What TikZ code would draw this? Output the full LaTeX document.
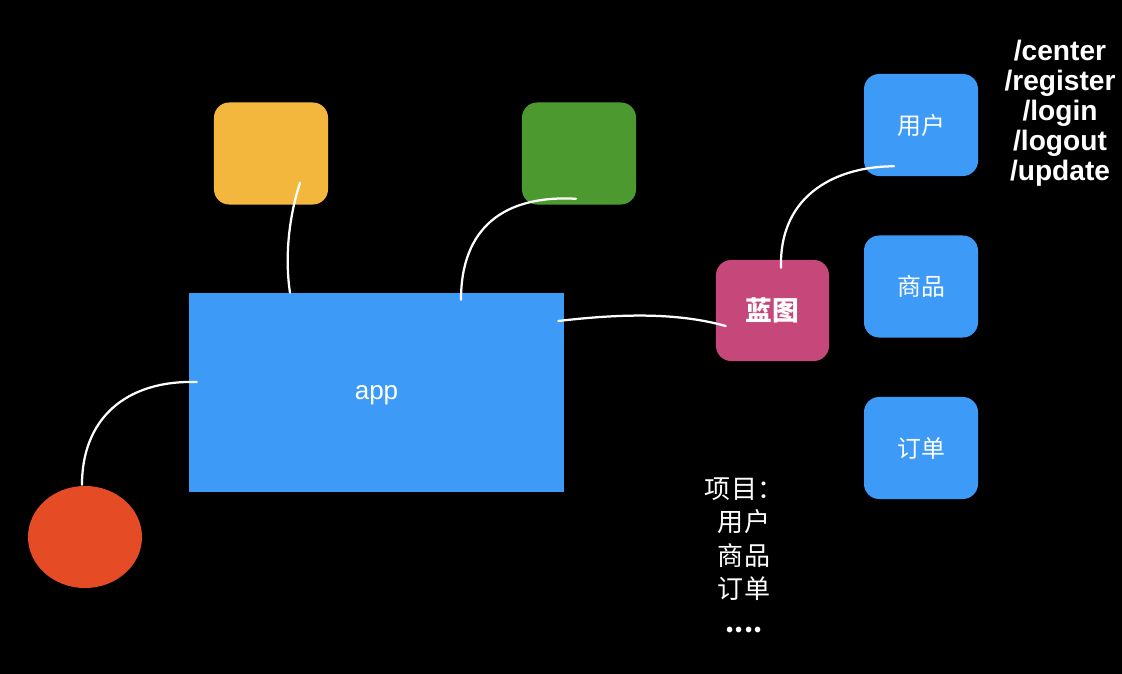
\documentclass[tikz,border=0pt]{standalone}
\usepackage{fontspec}
\setmainfont{Liberation Sans}
\newfontfamily\cjk{Noto Sans CJK SC}
\usetikzlibrary{shapes.geometric}

\definecolor{appblue}{HTML}{3D9BF7}
\definecolor{appyellow}{HTML}{F4B73D}
\definecolor{appgreen}{HTML}{4C9A2F}
\definecolor{apppink}{HTML}{C6487A}
\definecolor{appred}{HTML}{E54B25}

\tikzset{
    tile/.style={rounded corners=0.38cm,minimum width=2.85cm,minimum height=2.55cm,
        inner sep=0pt,text=white,font=\cjk\fontsize{17}{20}\selectfont},
    link/.style={white,line width=1.6pt,line cap=round},
}

\begin{document}
\begin{tikzpicture}[x=0.025cm,y=-0.025cm]
    % Hintergrund in Bildgröße
    \fill[black] (0,0) rectangle (1122,674);
    \useasboundingbox (0,0) rectangle (1122,674);

    % Kästen
    \node[tile,fill=appyellow] (yel) at (271,153.5) {};
    \node[tile,fill=appgreen] (grn) at (579,153.5) {};
    \node[fill=appblue,minimum width=9.375cm,minimum height=4.975cm,inner sep=0pt,text depth=0pt,
        text=white,font=\fontsize{18.5}{20}\selectfont] (app) at (376.5,392.5) {app};
    \node[ellipse,fill=appred,minimum width=2.85cm,minimum height=2.55cm,inner sep=0pt] (ball) at (85,537) {};

    \node[tile,fill=apppink,minimum width=2.825cm,minimum height=2.525cm,
        font=\cjk\bfseries\fontsize{19}{22}\selectfont] (bp) at (772.5,310.5) {蓝图};
    \node[tile,fill=appblue] (user) at (921,125) {用户};
    \node[tile,fill=appblue] (goods) at (921,286.5) {商品};
    \node[tile,fill=appblue] (order) at (921,448) {订单};

    % Texte
    \node[text=white,align=center,font=\bfseries\fontsize{20}{21.3}\selectfont] (routes) at (1060,113)
        {/center\\/register\\/login\\/logout\\/update};
    \node[text=white,align=center,font=\cjk\fontsize{18.5}{23.8}\selectfont] (proj) at (744,555)
        {项目：\\用户\\商品\\订单\\\textbf{....}};

    % Verbindungen
    \draw[link] ([shift={(29,-22)}]yel.south) .. controls +(-12,37) and +(-5,-33) .. ([shift={(-86.5,0)}]app.north);
    \draw[link] ([shift={(-3,-6)}]grn.south) .. controls +(-72,-4) and +(0,-72) .. ([shift={(84.5,7)}]app.north);
    \draw[link] ([shift={(8,-10.5)}]app.west) .. controls +(-72,-2) and +(0,-65) .. ([shift={(-3,-1)}]ball.north);
    \draw[link] ([shift={(10,15.5)}]bp.west) .. controls +(-50,-14) and +(60,-7) .. ([shift={(-6,-71.5)}]app.east);
    \draw[link] ([shift={(8.5,8)}]bp.north) .. controls +(-2,-75) and +(-55,0) .. ([shift={(-27,-10)}]user.south);
\end{tikzpicture}
\end{document}
